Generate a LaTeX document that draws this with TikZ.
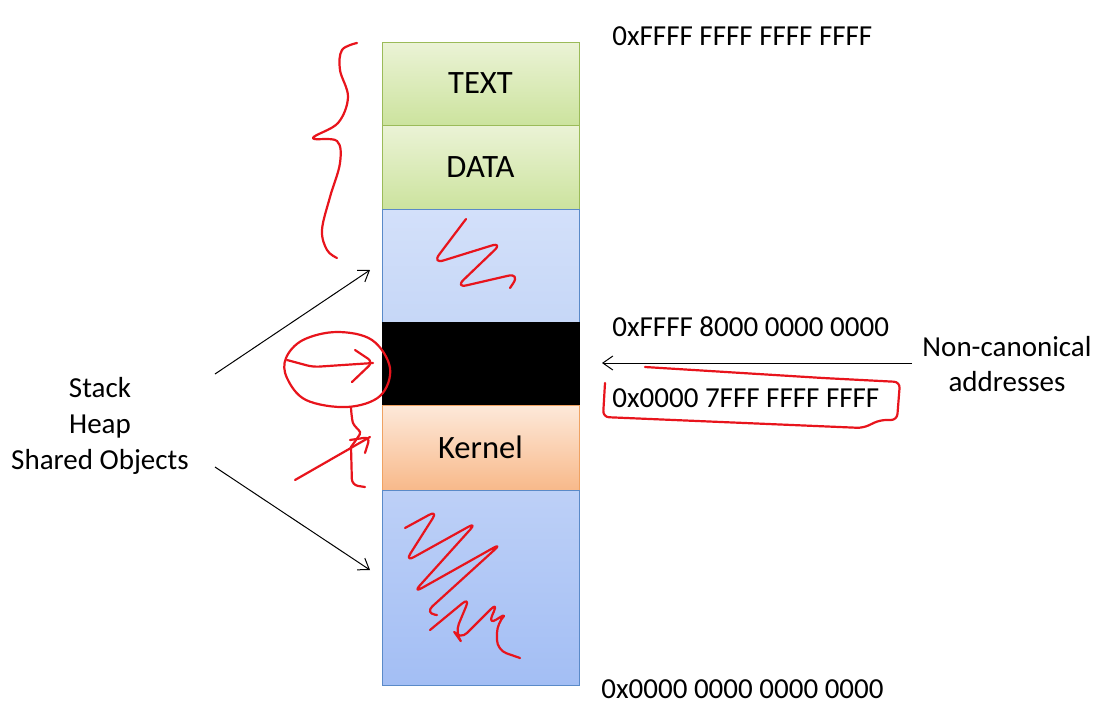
\documentclass[tikz,border=0pt]{standalone}
\usepackage{fontspec}
\setmainfont{Carlito}
\usetikzlibrary{arrows.meta}
\definecolor{greentop}{HTML}{EBF3D6}
\definecolor{greenbot}{HTML}{CCE39E}
\definecolor{greenline}{HTML}{9BBB59}
\definecolor{bluetop}{HTML}{D3E0FA}
\definecolor{bluebot}{HTML}{C6D7F7}
\definecolor{blue2top}{HTML}{BDD0F7}
\definecolor{blue2bot}{HTML}{A3BEF4}
\definecolor{blueline}{HTML}{5A8AC8}
\definecolor{orangetop}{HTML}{FDE9DA}
\definecolor{orangebot}{HTML}{F8B98A}
\definecolor{orangeline}{HTML}{EFA262}
\definecolor{inkred}{HTML}{E8141C}
\begin{document}
\begin{tikzpicture}[x=0.5pt,y=-0.5pt,
  every node/.style={font=\fontsize{14.5}{17.8}\selectfont},
  seg/.style={rectangle,minimum width=98.5pt,inner sep=0pt,line width=0.5pt,font=\fontsize{16.3}{19}\selectfont},
  addr/.style={anchor=west,inner sep=0pt},
  ink/.style={inkred,line width=1.1pt,line cap=round,line join=round,rounded corners=3pt},
  >={Straight Barb[length=5pt,width=7pt]}]
  \useasboundingbox[fill=white] (0,0) rectangle (1103,719);
  % memory column
  \node[seg,draw=greenline,top color=greentop,bottom color=greenbot,minimum height=41.5pt] (text) at (480.5,83.5) {TEXT};
  \node[seg,draw=greenline,top color=greentop,bottom color=greenbot,minimum height=42pt] (data) at (480.5,167) {DATA};
  \node[seg,draw=blueline,top color=bluetop,bottom color=bluebot,minimum height=56.5pt] (upper) at (480.5,265.5) {};
  \node[seg,draw=black,fill=black,minimum height=41.5pt] (hole) at (480.5,363.5) {};
  \node[seg,draw=orangeline,top color=orangetop,bottom color=orangebot,minimum height=42.5pt] (kernel) at (480.5,447.5) {Kernel};
  \node[seg,draw=blueline,top color=blue2top,bottom color=blue2bot,minimum height=97.5pt] (lower) at (480.5,587.5) {};
  % addresses
  \node[addr] (top) at (612,36) {0xFFFF FFFF FFFF FFFF};
  \node[addr] (hi) at (612,327) {0xFFFF 8000 0000 0000};
  \node[addr] (lo) at (612,398) {0x0000 7FFF FFFF FFFF};
  \node[addr] (bottom) at (601,689) {0x0000 0000 0000 0000};
  \node[align=center,inner sep=0pt] (noncanon) at (1007,364) {Non-canonical\\addresses};
  \node[align=center,inner sep=0pt] (user) at (100,426) {Stack\\Heap\\Shared Objects};
  % arrows
  \coordinate (nc) at (912,363);
  \coordinate (ncend) at (602,363);
  \coordinate (u1) at (215,374);
  \coordinate (u1end) at (370,270);
  \coordinate (u2) at (215,467);
  \coordinate (u2end) at (370,570);
  \draw[->,line width=0.5pt] (nc) -- (ncend);
  \draw[->,line width=0.5pt] (u1) -- (u1end);
  \draw[->,line width=0.5pt] (u2) -- (u2end);
  % red ink
  \draw[ink,rounded corners=0pt] plot[smooth,tension=0.6] coordinates {(357,43) (342,50) (340,70) (348,97) (338,123) (313,138) (337,141) (340,163) (330,197) (322,230) (327,250) (337,258)};
  \draw[ink,rounded corners=6pt] (466,219) -- (432,264) -- (503,242) -- (455,288) -- (520,273) -- (510,288);
  \draw[ink,rounded corners=0pt] plot[smooth cycle,tension=0.6] coordinates {(337,332) (372,340) (390,368) (380,396) (347,407) (306,400) (287,378) (286,358) (303,340)};
  \draw[ink] (287,360) -- (313,367) -- (373,363);
  \draw[ink] (355,350) -- (373,362) -- (352,382);
  \draw[ink,rounded corners=0pt] plot[smooth] coordinates {(351,408) (353,423) (360,432) (358,437) (351,447)};
  \draw[ink] (295,480) -- (370,437);
  \draw[ink] (350,440) -- (370,437) -- (365,453);
  \draw[ink] (351,447) -- (352,485) -- (365,487);
  \draw[ink] (645,367) -- (823,378) -- (900,382) -- (897,420) -- (880,420) -- (863,428) -- (603,417) -- (605,383);
  \draw[ink,rounded corners=5pt] (405,528) -- (438,510) -- (405,562) -- (477,522) -- (413,593) -- (502,543) -- (425,613) -- (437,615);
  \draw[ink,rounded corners=5pt] (430,630) -- (470,597) -- (455,633) -- (460,640) -- (498,602) -- (488,625) -- (508,612) -- (497,623) -- (497,650) -- (520,658);
\end{tikzpicture}
\end{document}
